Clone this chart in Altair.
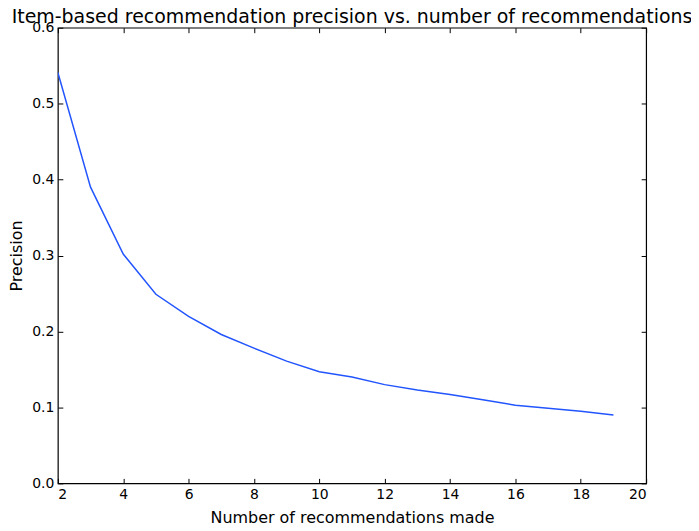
import altair as alt
import pandas as pd

n_recs = [2, 3, 4, 5, 6, 7, 8, 9, 10, 11, 12, 13, 14, 15, 16, 17, 18, 19]
precision = [0.541, 0.390, 0.302, 0.249, 0.220, 0.196, 0.178, 0.161, 0.147,
             0.140, 0.130, 0.123, 0.117, 0.110, 0.103, 0.099, 0.095, 0.090]
x_ticks = [2, 4, 6, 8, 10, 12, 14, 16, 18, 20]
y_ticks = [0.0, 0.1, 0.2, 0.3, 0.4, 0.5, 0.6]

df = pd.DataFrame({"n": n_recs, "p": precision})

FONT = "DejaVu Sans"
TICK = 5

xscale = alt.Scale(domain=[2, 20], nice=False, zero=False)
yscale = alt.Scale(domain=[0, 0.6], nice=False)

common = dict(domain=False, grid=False, tickColor="black", tickSize=TICK,
              offset=-TICK, labelFont=FONT, labelFontSize=14, labelColor="black",
              titleFont=FONT, titleFontWeight="normal", titleColor="black")

line = alt.Chart(df).mark_line(color="#2255ff", strokeWidth=1.5, clip=True).encode(
    x=alt.X("n:Q", scale=xscale,
            axis=alt.Axis(orient="bottom", values=x_ticks, title="Number of recommendations made",
                          titleFontSize=16, titlePadding=8, labelPadding=4, **common)),
    y=alt.Y("p:Q", scale=yscale,
            axis=alt.Axis(orient="left", values=y_ticks, format=".1f", title="Precision",
                          titleFontSize=16, titlePadding=7, labelPadding=4, **common)),
)

frame_axes = alt.Chart(df).mark_line(opacity=0).encode(
    x=alt.X("n:Q", scale=xscale,
            axis=alt.Axis(orient="top", values=x_ticks, labels=False, title=None, **common)),
    y=alt.Y("p:Q", scale=yscale,
            axis=alt.Axis(orient="right", values=y_ticks, labels=False, title=None, **common)),
)

chart = alt.layer(line, frame_axes).resolve_axis(
    x="independent", y="independent"
).properties(
    width=590,
    height=457,
    autosize=alt.AutoSizeParams(type="none"),
    padding={"left": 50, "top": 19, "right": 45, "bottom": 39},
    title=alt.Title("Item-based recommendation precision vs. number of recommendations",
                    font=FONT, fontSize=19, fontWeight="normal", color="black",
                    anchor="middle", offset=-6),
).configure(background="white").configure_view(stroke="black", strokeWidth=1.2)

chart.save("out.html", embed_options={"renderer": "svg", "actions": False})
